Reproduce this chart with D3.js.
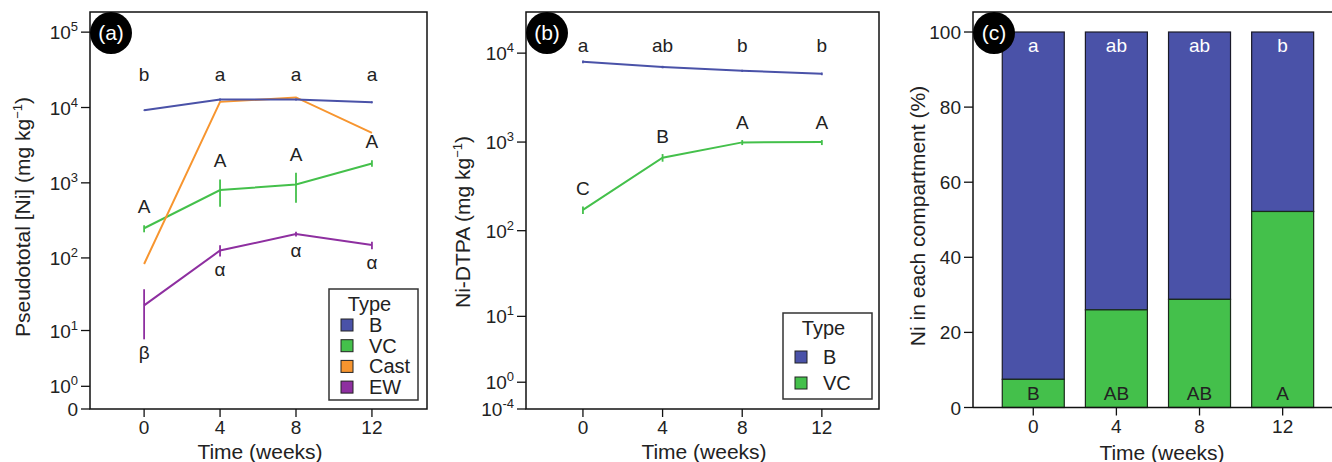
<!DOCTYPE html>
<html>
<head>
<meta charset="utf-8">
<script src="https://cdn.jsdelivr.net/npm/d3@7"></script>
<style>
  body { margin: 0; background: #fff; }
  text { font-family: "Liberation Sans", Arial, sans-serif; fill: #222; }
</style>
</head>
<body>
<svg id="chart" width="1332" height="462"></svg>
<script>
// Zeitpunkte (Wochen)
const weeks = [0, 4, 8, 12];

// Panel (a) Pseudototal Ni
const aB     = [9220, 12780, 12800, 11760];
const aBlo   = [9100, 12300, 12400, 11400];
const aBhi   = [9350, 13200, 13200, 12100];
const aVC    = [249, 802, 954, 1810];
const aVClo  = [220, 481, 544, 1633];
const aVChi  = [273, 1110, 1360, 2002];
const aCast  = [83, 11880, 13600, 4610];
const aEW    = [22.7, 125.7, 208, 148.6];
const aEWlo  = [7.4, 104.6, 192.7, 131];
const aEWhi  = [37.8, 148, 224.5, 165];
const aLetB  = ["b", "a", "a", "a"];
const aLetVC = ["A", "A", "A", "A"];
const aLetEW = ["β", "α", "α", "α"];

// Panel (b) Ni-DTPA
const bB     = [7990, 6970, 6330, 5860];
const bBlo   = [7700, 6750, 6150, 5650];
const bBhi   = [8250, 7200, 6500, 6050];
const bVC    = [172, 666, 992, 1000];
const bVClo  = [155, 601, 925, 925];
const bVChi  = [188, 733, 1053, 1053];
const bLetB  = ["a", "ab", "b", "b"];
const bLetVC = ["C", "B", "A", "A"];

// Panel (c) Anteil in jedem Kompartiment (%)
const cVC    = [7.5, 26.0, 28.8, 52.2];
const cB     = [92.5, 74.0, 71.2, 47.8];
const cLetB  = ["a", "ab", "ab", "b"];
const cLetVC = ["B", "AB", "AB", "A"];

// Achsenbeschriftungen
const aTickVals = [0, 1, 10, 100, 1000, 10000, 100000];
const aTickExp  = [null, "0", "1", "2", "3", "4", "5"];
const bTickVals = [0, 1, 10, 100, 1000, 10000];
const bTickExp  = ["-4", "0", "1", "2", "3", "4"];
const cTickVals = [0, 20, 40, 60, 80, 100];

const colors = { B: "#4a52a8", VC: "#44c04b", Cast: "#f7952f", EW: "#8e2fa0" };

const svg = d3.select("#chart");

// Rahmen + Achsen fuer ein Panel
function frame(g, left, right, top, bottom, box) {
  if (box) {
    g.append("rect").attr("x", left).attr("y", top)
      .attr("width", right - left).attr("height", bottom - top)
      .attr("fill", "none").attr("stroke", "#111").attr("stroke-width", 1.5);
  } else {
    g.append("path")
      .attr("d", `M${left},${bottom}V${top}H${right}M${left},${bottom}H${right}`)
      .attr("fill", "none").attr("stroke", "#111").attr("stroke-width", 1.5);
  }
}

function yTicks(g, y, left, vals, exps) {
  const t = g.append("g").selectAll("g").data(vals).enter().append("g");
  t.append("line")
    .attr("x1", left - 9).attr("x2", left)
    .attr("y1", d => y(d)).attr("y2", d => y(d))
    .attr("stroke", "#111").attr("stroke-width", 1.3);
  const txt = t.append("text")
    .attr("x", left - 12).attr("y", d => y(d) + 7)
    .attr("text-anchor", "end").style("font-size", "19px");
  txt.each(function(d, i) {
    const el = d3.select(this);
    if (exps == null) { el.text(d); return; }
    if (exps[i] == null) { el.text("0"); return; }
    el.append("tspan").text("10");
    el.append("tspan").attr("dy", -8).style("font-size", "13px").text(exps[i]);
  });
}

function xTicks(g, x, bottom) {
  const t = g.append("g").selectAll("g").data(weeks).enter().append("g");
  t.append("line")
    .attr("x1", d => x(d)).attr("x2", d => x(d))
    .attr("y1", bottom).attr("y2", bottom + 8)
    .attr("stroke", "#111").attr("stroke-width", 1.3);
  t.append("text")
    .attr("x", d => x(d)).attr("y", bottom + 25)
    .attr("text-anchor", "middle").style("font-size", "19px")
    .text(d => d);
}

function badge(g, left, top, label) {
  g.append("circle").attr("cx", left + 21).attr("cy", top + 21).attr("r", 21).attr("fill", "#000");
  g.append("text").attr("x", left + 21).attr("y", top + 28)
    .attr("text-anchor", "middle").style("font-size", "21px").style("fill", "#fff")
    .text(label);
}

function titles(g, xc, yx, yc, bottom, ylab) {
  g.append("text").attr("x", xc).attr("y", bottom + 50)
    .attr("text-anchor", "middle").style("font-size", "21px").text("Time (weeks)");
  const t = g.append("text")
    .attr("transform", `translate(${yx},${yc}) rotate(-90)`)
    .attr("text-anchor", "middle").style("font-size", "21px");
  t.append("tspan").text(ylab);
  t.append("tspan").attr("dy", -8).style("font-size", "13px").text("−1");
  t.append("tspan").attr("dy", 8).text(")");
}

// Linie + Fehlerbalken
function series(g, x, y, vals, lo, hi, color) {
  const line = d3.line().x((d, i) => x(weeks[i])).y(d => y(d));
  g.append("path").datum(vals).attr("d", line)
    .attr("fill", "none").attr("stroke", color).attr("stroke-width", 2);
  if (lo) {
    g.append("g").selectAll("line").data(vals).enter().append("line")
      .attr("x1", (d, i) => x(weeks[i])).attr("x2", (d, i) => x(weeks[i]))
      .attr("y1", (d, i) => y(lo[i])).attr("y2", (d, i) => y(hi[i]))
      .attr("stroke", color).attr("stroke-width", 1.8);
  }
}

function letters(g, x, ys, labels, size) {
  g.append("g").selectAll("text").data(labels).enter().append("text")
    .attr("x", (d, i) => x(weeks[i])).attr("y", (d, i) => ys(i))
    .attr("text-anchor", "middle").style("font-size", (size || 19) + "px")
    .text(d => d);
}

function legend(g, x0, y0, w, h, names, titleY, rowY, step) {
  g.append("rect").attr("x", x0).attr("y", y0).attr("width", w).attr("height", h)
    .attr("fill", "#fff").attr("stroke", "#333").attr("stroke-width", 1.5);
  g.append("text").attr("x", x0 + w / 2 - 4).attr("y", titleY)
    .attr("text-anchor", "middle").style("font-size", "20px").text("Type");
  const e = g.selectAll("g.legend-entry").data(names).enter().append("g")
    .attr("class", "legend-entry")
    .attr("transform", (d, i) => `translate(${x0 + 12},${rowY + i * step})`);
  e.append("rect").attr("x", 0).attr("y", -6).attr("width", 12).attr("height", 12)
    .attr("fill", d => colors[d]).attr("stroke", "#222").attr("stroke-width", 1);
  e.append("text").attr("x", 28).attr("y", 7).style("font-size", "20px").text(d => d);
}

// ---------------- Panel (a) ----------------
{
  const L = 90, R = 427, T = 12, B = 409;
  const g = svg.append("g");
  const x = d3.scaleLinear().domain([-2.85, 14.9]).range([L, R]);
  const y = d3.scaleSymlog().constant(1).domain([0, 185000]).range([B, T]);
  frame(g, L, R, T, B, true);
  yTicks(g, y, L, aTickVals, aTickExp);
  xTicks(g, x, B);
  series(g, x, y, aEW, aEWlo, aEWhi, colors.EW);
  series(g, x, y, aVC, aVClo, aVChi, colors.VC);
  series(g, x, y, aCast, null, null, colors.Cast);
  series(g, x, y, aB, aBlo, aBhi, colors.B);
  letters(g, x, i => 81, aLetB);
  letters(g, x, i => y(aVChi[i]) - 12, aLetVC);
  letters(g, x, i => y(aEWlo[i]) + 20, aLetEW);
  legend(g, 329, 289, 89, 111, ["B", "VC", "Cast", "EW"], 311, 325, 20.7);
  badge(g, L, T, "(a)");
  titles(g, 260, 30, 217, B, "Pseudototal [Ni] (mg kg");
}

// ---------------- Panel (b) ----------------
{
  const L = 526, R = 879, T = 12, B = 409;
  const g = svg.append("g");
  const x = d3.scaleLinear().domain([-2.86, 14.87]).range([L, R]);
  const y = d3.scaleSymlog().constant(1).domain([0, 29000]).range([B, T]);
  frame(g, L, R, T, B, true);
  yTicks(g, y, L, bTickVals, bTickExp);
  xTicks(g, x, B);
  series(g, x, y, bVC, bVClo, bVChi, colors.VC);
  series(g, x, y, bB, bBlo, bBhi, colors.B);
  letters(g, x, i => 52, bLetB);
  letters(g, x, i => y(bVChi[i]) - 11, bLetVC);
  legend(g, 783, 313, 89, 86, ["B", "VC"], 335, 357, 26);
  badge(g, L, T, "(b)");
  titles(g, 704, 470, 222, B, "Ni-DTPA (mg kg");
}

// ---------------- Panel (c) ----------------
{
  const L = 973, R = 1345, T = 12, B = 407.5;
  const g = svg.append("g");
  const x = d3.scaleLinear().domain([-2.9, 15.0]).range([L, R]);
  const y = d3.scaleLinear().domain([0, 105.33]).range([B, T]);
  const bw = 62;

  // gestapelte Balken: VC unten, B oben
  const stack = weeks.map((w, i) => ({ w: w, vc: cVC[i], b: cB[i] }));
  const bars = g.append("g").selectAll("g").data(stack).enter().append("g");
  bars.append("rect")
    .attr("x", d => x(d.w) - bw / 2).attr("width", bw)
    .attr("y", d => y(d.vc + d.b)).attr("height", d => y(d.vc) - y(d.vc + d.b))
    .attr("fill", colors.B).attr("stroke", "#1a1a2a").attr("stroke-width", 1.2);
  bars.append("rect")
    .attr("x", d => x(d.w) - bw / 2).attr("width", bw)
    .attr("y", d => y(d.vc)).attr("height", d => y(0) - y(d.vc))
    .attr("fill", colors.VC).attr("stroke", "#1a2a1a").attr("stroke-width", 1.2);

  frame(g, L, R, T, B, false);
  yTicks(g, y, L, cTickVals, null);
  xTicks(g, x, B);

  g.append("g").selectAll("text").data(cLetB).enter().append("text")
    .attr("x", (d, i) => x(weeks[i])).attr("y", y(100) + 20)
    .attr("text-anchor", "middle").style("font-size", "19px").style("fill", "#fff")
    .text(d => d);
  letters(g, x, i => y(0) - 8, cLetVC);

  badge(g, L, T, "(c)");
  g.append("text")
    .attr("transform", `translate(925,216) rotate(-90)`)
    .attr("text-anchor", "middle").style("font-size", "21px")
    .text("Ni in each compartment (%)");
  g.append("text").attr("x", 1162).attr("y", B + 52)
    .attr("text-anchor", "middle").style("font-size", "21px").text("Time (weeks)");
}
</script>
</body>
</html>
